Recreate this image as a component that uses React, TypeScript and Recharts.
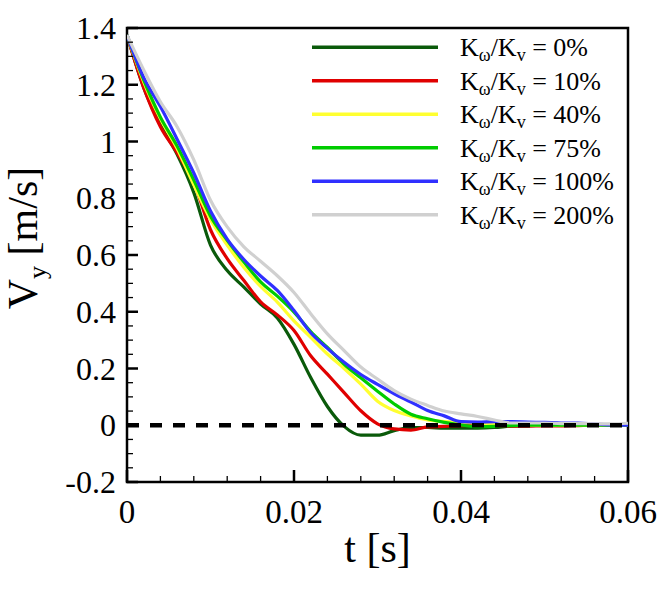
import React from 'react';
import { LineChart, Line, XAxis, YAxis, ReferenceArea } from 'recharts';

// time axis [s], sampled every 2 ms
const timeS = [
    0, 0.002, 0.004, 0.006, 0.008, 0.01, 0.012, 0.014, 0.016, 0.018, 0.02,
    0.022, 0.024, 0.026, 0.028, 0.03, 0.032, 0.034, 0.036, 0.038, 0.04,
    0.042, 0.044, 0.046, 0.048, 0.05, 0.052, 0.054, 0.056, 0.058, 0.06,
];

// Vy [m/s] for each Kw/Kv ratio
const vy0 = [
    1.375, 1.19, 1.06, 0.955, 0.82, 0.635, 0.545, 0.487, 0.427, 0.378, 0.285,
    0.168, 0.066, -0.004, -0.035, -0.035, -0.019, -0.008, -0.008, -0.01, -0.01,
    -0.01, -0.008, -0.003, -0.001, 0, 0.002, 0.001, 0, 0, 0,
];
const vy10 = [
    1.375, 1.19, 1.052, 0.96, 0.855, 0.689, 0.587, 0.51, 0.435, 0.389, 0.334,
    0.245, 0.18, 0.115, 0.051, 0.005, -0.013, -0.017, -0.006, -0.004, -0.001,
    0, -0.002, -0.003, -0.003, -0.002, -0.002, -0.001, 0, 0, 0,
];
const vy40 = [
    1.375, 1.21, 1.08, 0.975, 0.847, 0.725, 0.635, 0.556, 0.489, 0.434, 0.368,
    0.31, 0.251, 0.2, 0.145, 0.085, 0.052, 0.033, 0.019, 0.013, 0.01,
    0.007, 0.003, 0.001, 0, 0, 0, 0, 0, 0, 0,
];
const vy75 = [
    1.375, 1.217, 1.086, 0.984, 0.864, 0.737, 0.652, 0.575, 0.505, 0.455, 0.399,
    0.33, 0.274, 0.215, 0.167, 0.12, 0.075, 0.039, 0.023, 0.01, 0.001,
    -0.005, -0.004, -0.001, 0, 0, 0, 0, 0, 0, 0,
];
const vy100 = [
    1.375, 1.225, 1.123, 1.008, 0.889, 0.755, 0.656, 0.584, 0.526, 0.475, 0.404,
    0.326, 0.271, 0.222, 0.179, 0.144, 0.111, 0.082, 0.052, 0.033, 0.0125,
    0.011, 0.0125, 0.0125, 0.011, 0.01, 0.008, 0.008, 0.004, 0.001, 0,
];
const vy200 = [
    1.375, 1.252, 1.14, 1.052, 0.935, 0.793, 0.699, 0.629, 0.578, 0.527, 0.468,
    0.393, 0.322, 0.263, 0.205, 0.163, 0.122, 0.092, 0.07, 0.05, 0.04,
    0.031, 0.0185, 0.008, 0.008, 0.008, 0.006, 0.006, 0.005, 0.005, 0.007,
];

const ratioLabels = ['0%', '10%', '40%', '75%', '100%', '200%'];
const seriesKeys = ['k0', 'k10', 'k40', 'k75', 'k100', 'k200'];
const seriesValues = [vy0, vy10, vy40, vy75, vy100, vy200];
const colors = ['#0a5a0a', '#e00000', '#ffff30', '#00cc00', '#3030ff', '#d0d0d0'];

const xTicks = [
    0, 0.004, 0.008, 0.012, 0.016, 0.02, 0.024, 0.028, 0.032, 0.036, 0.04,
    0.044, 0.048, 0.052, 0.056, 0.06,
];
const xMajor = [0, 0.02, 0.04, 0.06];
const yTicks = [
    -0.2, -0.15, -0.1, -0.05, 0, 0.05, 0.1, 0.15, 0.2, 0.25, 0.3, 0.35, 0.4,
    0.45, 0.5, 0.55, 0.6, 0.65, 0.7, 0.75, 0.8, 0.85, 0.9, 0.95, 1, 1.05, 1.1,
    1.15, 1.2, 1.25, 1.3, 1.35, 1.4,
];
const yMajor = [-0.2, 0, 0.2, 0.4, 0.6, 0.8, 1, 1.2, 1.4];

const rows = timeS.map((t, i) => {
    const row: Record<string, number> = { t, zero: 0 };
    seriesKeys.forEach((k, s) => { row[k] = seriesValues[s][i]; });
    return row;
});

const SERIF = 'Times New Roman, Liberation Serif, Tinos, Noto Serif, DejaVu Serif, FreeSerif, Nimbus Roman, serif';
const isIn = (list: number[], v: number) => list.some((m) => Math.abs(m - v) < 1e-9);

const XTick = (props: any) => {
    const { x, y, payload } = props;
    const major = isIn(xMajor, payload.value);
    return (
        <g>
            <line x1={x} x2={x} y1={y} y2={y - (major ? 12 : 6)} stroke="#000" strokeWidth={major ? 2.5 : 1.3} />
            {major && (
                <text x={x} y={y + 41} textAnchor="middle" fontFamily={SERIF} fontSize={33} fill="#000">
                    {String(payload.value)}
                </text>
            )}
        </g>
    );
};

const YTick = (props: any) => {
    const { x, y, payload } = props;
    const major = isIn(yMajor, payload.value);
    return (
        <g>
            <line x1={x} x2={x + (major ? 11 : 6)} y1={y} y2={y} stroke="#000" strokeWidth={major ? 2.5 : 1.3} />
            {major && (
                <text x={x - 11} y={y + 11} textAnchor="end" fontFamily={SERIF} fontSize={32} fill="#000">
                    {String(payload.value)}
                </text>
            )}
        </g>
    );
};

const XTitle = (props: any) => {
    const { viewBox } = props;
    return (
        <text x={viewBox.x + viewBox.width / 2} y={viewBox.y + 80} textAnchor="middle" fontFamily={SERIF} fontSize={42} fill="#000">
            t [s]
        </text>
    );
};

const YTitle = (props: any) => {
    const { viewBox } = props;
    const cx = 37;
    const cy = viewBox.y + viewBox.height / 2 - 17;
    return (
        <text x={cx} y={cy} transform={`rotate(-90, ${cx}, ${cy})`} textAnchor="middle" fontFamily={SERIF} fontSize={42} fill="#000">
            V<tspan fontSize={26} dy={9}>y</tspan>
            <tspan dy={-9}> [m/s]</tspan>
        </text>
    );
};

const LegendBox = () => (
    <svg width={664} height={591} style={{ position: 'absolute', left: 0, top: 0, pointerEvents: 'none' }}>
        {ratioLabels.map((r, i) => {
            const y = 47.3 + i * 33.5;
            return (
                <g key={r}>
                    <line x1={312} x2={438} y1={y} y2={y} stroke={colors[i]} strokeWidth={3.5} />
                    <text x={460} y={y + 9} fontFamily={SERIF} fontSize={26} fill="#000">
                        K<tspan fontSize={18} dy={5}>ω</tspan>
                        <tspan dy={-5}>/K</tspan>
                        <tspan fontSize={18} dy={5}>v</tspan>
                        <tspan dy={-5}>{` = ${r}`}</tspan>
                    </text>
                </g>
            );
        })}
    </svg>
);

export default function App() {
    return (
        <div style={{ position: 'absolute', left: 0, top: 0, width: 664, height: 591, background: '#fff' }}>
            <LineChart width={664} height={591} data={rows} margin={{ top: 28, right: 36, bottom: 0, left: 0 }}>
                <XAxis
                    dataKey="t"
                    type="number"
                    domain={[0, 0.06]}
                    ticks={xTicks}
                    interval={0}
                    allowDataOverflow
                    height={109}
                    tickSize={0}
                    tickMargin={0}
                    axisLine={false}
                    tickLine={false}
                    tick={XTick}
                    label={XTitle}
                />
                <YAxis
                    type="number"
                    domain={[-0.2, 1.4]}
                    ticks={yTicks}
                    interval={0}
                    allowDataOverflow
                    width={127}
                    tickSize={0}
                    tickMargin={0}
                    axisLine={false}
                    tickLine={false}
                    tick={YTick}
                    label={YTitle}
                />
                <ReferenceArea x1={0} x2={0.06} y1={-0.2} y2={1.4} fill="none" stroke="#000" strokeWidth={2.5} />
                {seriesKeys.map((k, i) => (
                    <Line
                        key={k}
                        dataKey={k}
                        type="monotone"
                        stroke={colors[i]}
                        strokeWidth={3.2}
                        dot={false}
                        isAnimationActive={false}
                    />
                ))}
                <Line
                    dataKey="zero"
                    type="linear"
                    stroke="#000"
                    strokeWidth={4.5}
                    strokeDasharray="12 11"
                    dot={false}
                    isAnimationActive={false}
                />
            </LineChart>
            <LegendBox />
        </div>
    );
}
